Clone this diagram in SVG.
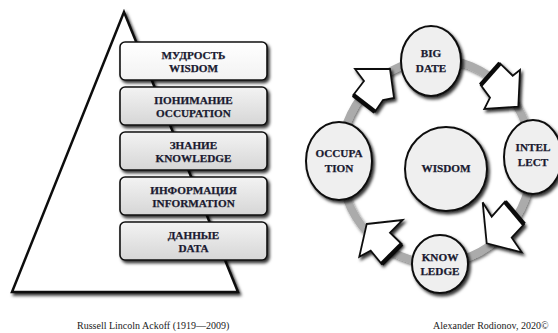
<svg xmlns="http://www.w3.org/2000/svg" width="558" height="333" viewBox="0 0 558 333">
<defs>
<filter id="sh" x="-20%" y="-20%" width="150%" height="150%">
<feDropShadow dx="2" dy="2.5" stdDeviation="1.6" flood-color="#000" flood-opacity="0.8"/>
</filter>
<filter id="shr" x="-20%" y="-20%" width="140%" height="140%">
<feDropShadow dx="1.5" dy="2" stdDeviation="1.5" flood-color="#000" flood-opacity="0.55"/>
</filter>
<linearGradient id="gbox" x1="0" y1="0" x2="0" y2="1">
<stop offset="0" stop-color="#f3f3f3"/>
<stop offset="1" stop-color="#d6d6d6"/>
</linearGradient>
<linearGradient id="gtop" x1="0" y1="0" x2="0" y2="1">
<stop offset="0" stop-color="#ffffff"/>
<stop offset="1" stop-color="#f2f2f2"/>
</linearGradient>
</defs>
<style>
.lbl{font-family:"Liberation Serif","Times New Roman",serif;font-weight:bold;font-size:11.2px;fill:#1a1a30;stroke:#1a1a30;stroke-width:0.25;text-anchor:middle}
.cap{font-family:"Liberation Serif","Times New Roman",serif;font-size:10px;fill:#222}
.box{stroke:#111;stroke-width:1.6;filter:url(#sh)}
.circ{fill:#efefef;stroke:#111;stroke-width:2;filter:url(#sh)}
.arr{fill:#fff;stroke:#111;stroke-width:1.8;stroke-linejoin:miter;filter:url(#sh)}
.tail{stroke:#0a0a0a;stroke-width:4.5;fill:none}
</style>
<rect width="558" height="333" fill="#fff"/>

<g id="pyramid">
<polygon points="124,12 12,292 238,292" fill="#fff" stroke="#111" stroke-width="2.5" stroke-linejoin="miter" filter="url(#sh)"/>
</g>

<g id="wisdom-box">
<rect class="box" x="120" y="42" width="147" height="38" rx="5" fill="url(#gtop)"/>
<text class="lbl" x="193.5" y="58.5">МУДРОСТЬ</text>
<text class="lbl" x="193.5" y="71.5">WISDOM</text>
</g>
<g id="occupation-box">
<rect class="box" x="120" y="87" width="147" height="38" rx="5" fill="url(#gbox)"/>
<text class="lbl" x="193.5" y="103.5">ПОНИМАНИЕ</text>
<text class="lbl" x="193.5" y="116.5">OCCUPATION</text>
</g>
<g id="knowledge-box">
<rect class="box" x="120" y="132" width="147" height="38" rx="5" fill="url(#gbox)"/>
<text class="lbl" x="193.5" y="148.5">ЗНАНИЕ</text>
<text class="lbl" x="193.5" y="161.5">KNOWLEDGE</text>
</g>
<g id="information-box">
<rect class="box" x="120" y="177" width="147" height="38" rx="5" fill="url(#gbox)"/>
<text class="lbl" x="193.5" y="193.5">ИНФОРМАЦИЯ</text>
<text class="lbl" x="193.5" y="206.5">INFORMATION</text>
</g>
<g id="data-box">
<rect class="box" x="120" y="222" width="147" height="38" rx="5" fill="url(#gbox)"/>
<text class="lbl" x="193.5" y="238.5">ДАННЫЕ</text>
<text class="lbl" x="193.5" y="251.5">DATA</text>
</g>

<g id="connectors">
<ellipse cx="436" cy="161" rx="96" ry="102" fill="none" stroke="#ababab" stroke-width="8" filter="url(#shr)"/>
<g id="arrow-occ-big">
<polygon class="arr" points="390,69 394,98 383,100 375,111.7 353.3,95 364,81 355,69"/>
<line class="tail" x1="353.3" y1="95" x2="375" y2="111.7"/>
</g>
<g id="arrow-big-intel">
<polygon class="arr" points="500,63.3 512.7,75.7 520,70 518.3,106.7 484.3,109 490,97.7 480.7,85"/>
<line class="tail" x1="500" y1="63.3" x2="480.7" y2="85"/>
</g>
<g id="arrow-intel-know">
<polygon class="arr" points="482.7,202.3 491.7,216.7 505,201.7 524,224.3 511.7,237.7 521.7,252.3 486.7,243.3"/>
<line class="tail" x1="505" y1="201.7" x2="524" y2="224.3"/>
</g>
<g id="arrow-know-occ">
<polygon class="arr" points="366.7,224 402.7,220 390,232.7 401.7,244 381.7,264 370.7,250.7 359.3,256.7"/>
<line class="tail" x1="401.7" y1="244" x2="381.7" y2="264"/>
</g>
</g>

<g id="big-date">
<ellipse class="circ" cx="431" cy="61" rx="30" ry="35"/>
<text class="lbl" x="431" y="57">BIG</text>
<text class="lbl" x="431" y="72">DATE</text>
</g>
<g id="intellect">
<ellipse class="circ" cx="533" cy="157" rx="29" ry="37"/>
<text class="lbl" x="533" y="151">INTEL</text>
<text class="lbl" x="533" y="166">LECT</text>
</g>
<g id="knowledge">
<ellipse class="circ" cx="440" cy="264" rx="28" ry="29"/>
<text class="lbl" x="440" y="261">KNOW</text>
<text class="lbl" x="440" y="275">LEDGE</text>
</g>
<g id="occupation">
<ellipse class="circ" cx="339" cy="161" rx="33" ry="39"/>
<text class="lbl" x="339" y="157">OCCUPA</text>
<text class="lbl" x="339" y="172">TION</text>
</g>
<g id="wisdom">
<ellipse class="circ" cx="446" cy="169" rx="41" ry="42"/>
<text class="lbl" x="446" y="172">WISDOM</text>
</g>

<text class="cap" x="77" y="329">Russell Lincoln Ackoff (1919—2009)</text>
<text class="cap" x="433" y="329">Alexander Rodionov, 2020©</text>
</svg>
